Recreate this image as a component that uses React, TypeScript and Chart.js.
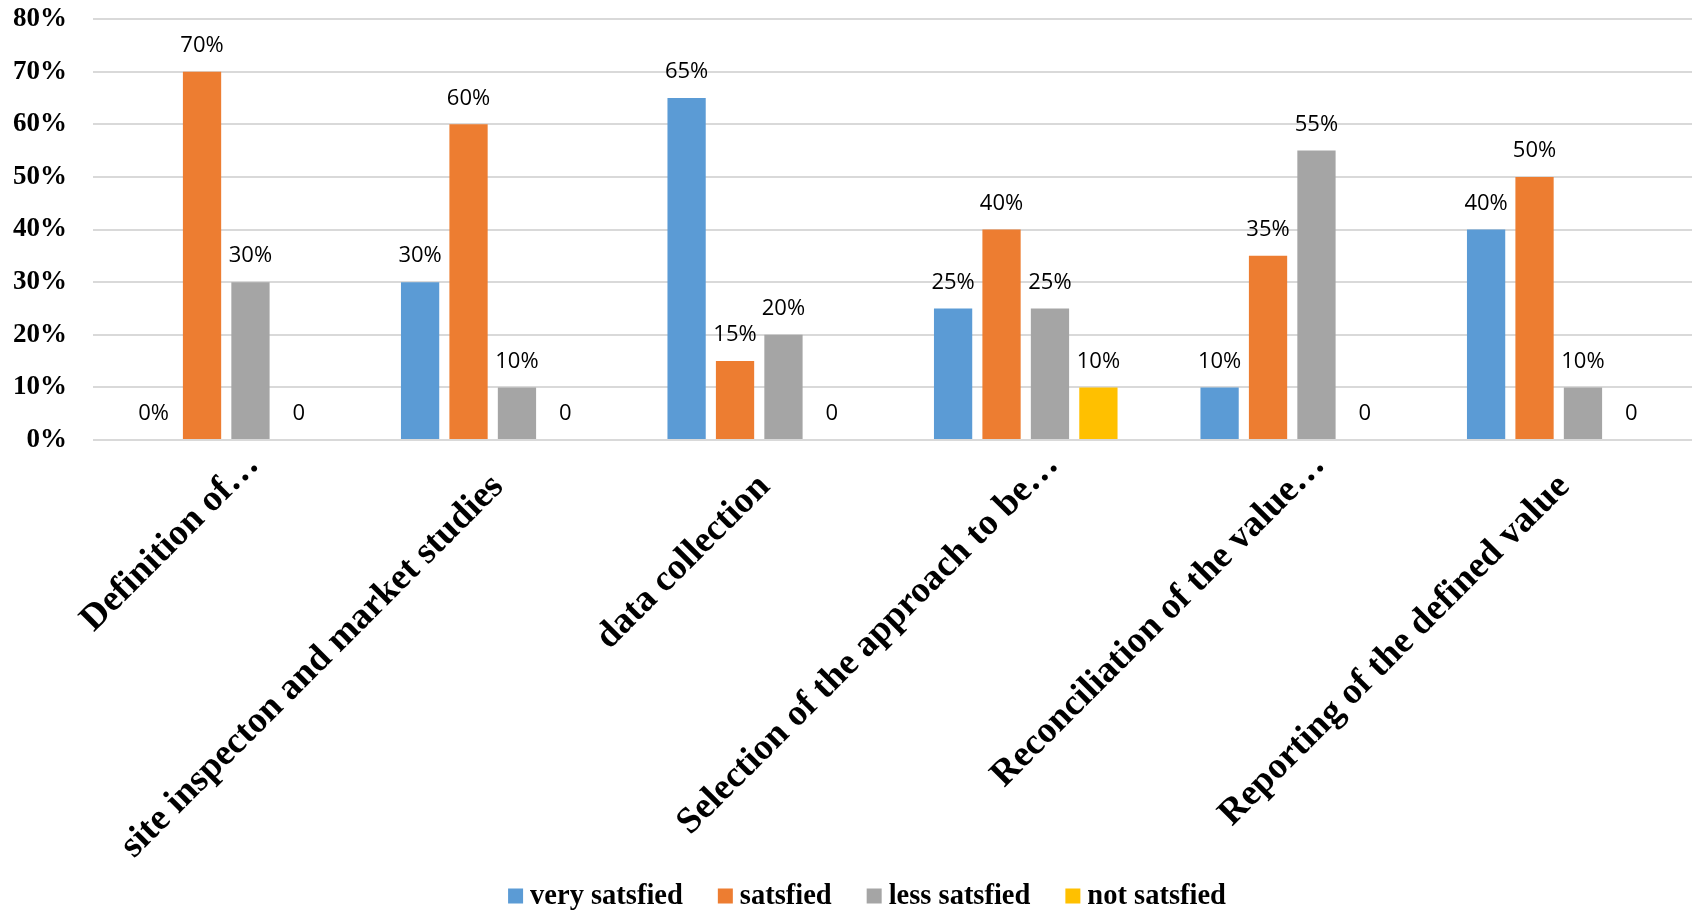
import React, { useEffect, useRef } from "react";
import { Chart, registerables } from "chart.js";

Chart.register(...registerables);

const categories = [
  "Definition of…",
  "site inspecton and market studies",
  "data collection",
  "Selection of the approach to be…",
  "Reconciliation of the value…",
  "Reporting of the defined value",
];
const seriesNames = ["very satsfied", "satsfied", "less satsfied", "not satsfied"];
const verySatisfied = [0, 30, 65, 25, 10, 40];
const satisfied = [70, 60, 15, 40, 35, 50];
const lessSatisfied = [30, 10, 20, 25, 55, 10];
const notSatisfied = [0, 0, 0, 10, 0, 0];
const zeroLabels = ["0%", "0%", "0%", "0"];
const seriesColors = ["#5B9BD5", "#ED7D31", "#A5A5A5", "#FFC000"];
const yMin = 0;
const yMax = 80;
const yStep = 10;

const W = 1692;
const H = 912;

const dataLabelPlugin = {
  id: "dataLabels",
  afterDatasetsDraw(chart: any) {
    const ctx = chart.ctx;
    ctx.save();
    ctx.font = '22px "Open Sans"';
    ctx.fillStyle = "#000000";
    ctx.textAlign = "center";
    ctx.textBaseline = "middle";
    chart.data.datasets.forEach((ds: any, di: number) => {
      const meta = chart.getDatasetMeta(di);
      meta.data.forEach((el: any, i: number) => {
        const v = ds.data[i];
        const text = v === 0 ? zeroLabels[di] : v + "%";
        ctx.fillText(text, el.x, el.y - 26);
      });
    });
    ctx.restore();
  },
};

// Rotated category labels (Excel-style: truncated labels sit further along their direction)
const xLabelPlugin = {
  id: "xLabels",
  afterDraw(chart: any) {
    const xs = chart.scales.x;
    const ctx = chart.ctx;
    const bottom = chart.chartArea.bottom;
    ctx.save();
    ctx.font = 'bold 37px "Liberation Serif"';
    ctx.fillStyle = "#000000";
    ctx.textAlign = "right";
    ctx.textBaseline = "alphabetic";
    (chart.data.labels as string[]).forEach((c: string, i: number) => {
      const px = xs.getPixelForTick(i);
      const trunc = c.endsWith("…");
      const dx = trunc ? 34 : 12;
      const dy = trunc ? 26 : 48;
      ctx.save();
      ctx.translate(px + dx, bottom + dy);
      ctx.rotate(-Math.PI / 4);
      ctx.fillText(c, 0, 0);
      ctx.restore();
    });
    ctx.restore();
  },
};

const legendPlugin = {
  id: "bottomLegend",
  afterDraw(chart: any) {
    const ctx = chart.ctx;
    ctx.save();
    ctx.font = 'bold 28.5px "Liberation Serif"';
    ctx.textBaseline = "middle";
    ctx.textAlign = "left";
    const box = 15;
    const gapText = 7;
    const gapItem = 35;
    const dsets = chart.data.datasets;
    const widths = dsets.map((d: any) => ctx.measureText(d.label).width);
    let total = 0;
    widths.forEach((w: number, i: number) => {
      total += box + gapText + w + (i < widths.length - 1 ? gapItem : 0);
    });
    const cx = 867;
    const cy = 896;
    let x = cx - total / 2;
    dsets.forEach((d: any, i: number) => {
      ctx.fillStyle = d.backgroundColor;
      ctx.fillRect(x, cy - box / 2, box, box);
      ctx.fillStyle = "#000000";
      ctx.fillText(d.label, x + box + gapText, cy + 1);
      x += box + gapText + widths[i] + gapItem;
    });
    ctx.restore();
  },
};

export default function App() {
  const ref = useRef<HTMLCanvasElement>(null);

  useEffect(() => {
    if (!ref.current) return;
    const seriesData = [verySatisfied, satisfied, lessSatisfied, notSatisfied];
    const chart = new Chart(ref.current, {
      type: "bar",
      data: {
        labels: categories,
        datasets: seriesNames.map((name, i) => ({
          label: name,
          data: seriesData[i],
          backgroundColor: seriesColors[i],
          borderWidth: 0,
          categoryPercentage: 0.727,
          barPercentage: 0.79,
        })),
      },
      options: {
        responsive: false,
        animation: false,
        layout: { padding: { left: 0, right: 0, top: 19, bottom: 0 } },
        plugins: {
          legend: { display: false },
          tooltip: { enabled: false },
        },
        scales: {
          x: {
            grid: { display: false },
            border: { display: false },
            ticks: { display: false },
            afterFit(scale: any) {
              scale.height = 472;
              scale.paddingLeft = 0;
              scale.paddingRight = 0;
            },
          },
          y: {
            min: yMin,
            max: yMax,
            ticks: {
              stepSize: yStep,
              padding: 26,
              color: "#000000",
              font: { family: '"Liberation Serif"', size: 27, weight: "bold" },
              callback: (v: any) => v + "%",
            },
            grid: { color: "#D9D9D9", lineWidth: 2, drawTicks: false },
            border: { display: false },
            afterFit(scale: any) {
              scale.width = 93;
              scale.paddingTop = 0;
              scale.paddingBottom = 0;
            },
          },
        },
      },
      plugins: [dataLabelPlugin, xLabelPlugin, legendPlugin],
    });
    return () => chart.destroy();
  }, []);

  return (
    <div style={{ position: "fixed", left: 0, top: 0, width: W, height: H, background: "#ffffff" }}>
      <canvas ref={ref} width={W} height={H} style={{ display: "block", width: W, height: H }} />
    </div>
  );
}
